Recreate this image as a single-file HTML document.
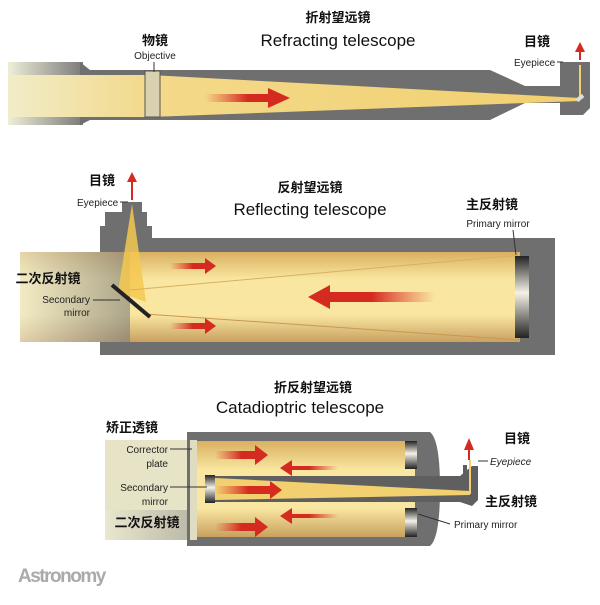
<!DOCTYPE html>
<html><head><meta charset="utf-8"><style>
body{margin:0;background:#fff;}
svg text{font-family:"Liberation Sans","Noto Sans CJK SC",sans-serif;}
.cn{font-weight:bold;font-size:13px;fill:#111;}
.sm{font-size:10px;fill:#222;}
.big{font-size:17px;fill:#111;}
</style></head><body>
<svg width="600" height="600" viewBox="0 0 600 600" xmlns="http://www.w3.org/2000/svg">
<defs>
<linearGradient id="fadeL" x1="0" x2="1"><stop offset="0" stop-color="#eeeed8"/><stop offset="1" stop-color="#7a7a7a"/></linearGradient>
<linearGradient id="beamL" x1="0" x2="1"><stop offset="0" stop-color="#f1ecc8"/><stop offset="0.25" stop-color="#f3d98a"/><stop offset="1" stop-color="#f2d070"/></linearGradient>
<linearGradient id="beamV" x1="0" y1="0" x2="0" y2="1"><stop offset="0" stop-color="#d9b060"/><stop offset="0.3" stop-color="#f9e6a0"/><stop offset="0.7" stop-color="#f9e6a0"/><stop offset="1" stop-color="#c9a060"/></linearGradient>
<linearGradient id="arrR" x1="0" x2="1"><stop offset="0" stop-color="#e04030" stop-opacity="0"/><stop offset="0.5" stop-color="#d42a20"/><stop offset="1" stop-color="#d42a20"/></linearGradient>
<linearGradient id="arrLg" x1="1" x2="0"><stop offset="0" stop-color="#e04030" stop-opacity="0"/><stop offset="0.5" stop-color="#d42a20"/><stop offset="1" stop-color="#d42a20"/></linearGradient>
<linearGradient id="mir" x1="0" y1="0" x2="0" y2="1"><stop offset="0" stop-color="#222"/><stop offset="0.45" stop-color="#f4f2e8"/><stop offset="1" stop-color="#222"/></linearGradient>
</defs>

<!-- Refracting -->
<text x="338" y="22" class="cn" text-anchor="middle">折射望远镜</text>
<text x="338" y="46" class="big" text-anchor="middle">Refracting telescope</text>
<rect x="8" y="62" width="75" height="63" fill="url(#fadeL)"/>
<polygon points="80,62 90,70 490,70 525,86 560,86 560,62 590,62 590,108 583,115 560,115 560,103 525,103 490,120 90,120 80,125" fill="#6f6f6f"/>
<polygon points="8,75 150,75 580,98 580,101 150,117 8,117" fill="url(#beamL)"/>
<rect x="145" y="71" width="15" height="46" fill="#d8d2b0" stroke="#555" stroke-width="1"/>
<line x1="154" y1="62" x2="154" y2="72" stroke="#333"/>
<line x1="580" y1="65" x2="580" y2="100" stroke="#f2d070" stroke-width="2"/>
<rect x="576" y="96" width="8" height="4" fill="#ddd" transform="rotate(-40 580 98)"/>
<polygon points="205,94 268,94 268,88 290,98 268,108 268,102 205,102" fill="url(#arrR)"/>
<line x1="580" y1="60" x2="580" y2="50" stroke="#d42a20" stroke-width="2"/>
<polygon points="575,52 580,42 585,52" fill="#d42a20"/>
<text x="155" y="45" class="cn" text-anchor="middle">物镜</text>
<text x="155" y="59" class="sm" text-anchor="middle">Objective</text>
<text x="537" y="46" class="cn" text-anchor="middle">目镜</text>
<text x="514" y="66" class="sm">Eyepiece</text>
<line x1="557" y1="62" x2="563" y2="62" stroke="#333"/>

<!-- Reflecting -->
<text x="310" y="192" class="cn" text-anchor="middle">反射望远镜</text>
<text x="310" y="215" class="big" text-anchor="middle">Reflecting telescope</text>
<polygon points="100,238 100,226 105,226 105,212 122,212 122,202 142,202 142,212 147,212 147,226 152,226 152,238 555,238 555,355 100,355" fill="#6f6f6f"/>
<rect x="20" y="252" width="500" height="90" fill="url(#beamV)"/>
<rect x="20" y="252" width="110" height="90" fill="url(#fadeL)" opacity="0.6"/>
<polygon points="132,204 118,292 146,302" fill="#f4c850" opacity="0.85"/>
<line x1="130" y1="290" x2="520" y2="255" stroke="#d8b060" stroke-width="1"/>
<line x1="145" y1="314" x2="520" y2="340" stroke="#c89850" stroke-width="1"/>
<rect x="515" y="256" width="14" height="82" fill="url(#mir)"/>
<line x1="112" y1="285" x2="150" y2="317" stroke="#222" stroke-width="4"/>
<line x1="132" y1="200" x2="132" y2="180" stroke="#d42a20" stroke-width="2"/>
<polygon points="127,182 132,172 137,182" fill="#d42a20"/>
<polygon points="170,263 205,263 205,258 216,266 205,274 205,269 170,269" fill="url(#arrR)"/>
<polygon points="170,323 205,323 205,318 216,326 205,334 205,329 170,329" fill="url(#arrR)"/>
<polygon points="435,292 330,292 330,285 308,297 330,309 330,302 435,302" fill="url(#arrLg)"/>
<text x="102" y="185" class="cn" text-anchor="middle">目镜</text>
<text x="77" y="206" class="sm">Eyepiece</text>
<line x1="120" y1="202" x2="128" y2="202" stroke="#333"/>
<text x="48" y="283" class="cn" text-anchor="middle">二次反射镜</text>
<text x="90" y="303" class="sm" text-anchor="end">Secondary</text>
<text x="90" y="316" class="sm" text-anchor="end">mirror</text>
<line x1="93" y1="300" x2="120" y2="300" stroke="#333"/>
<text x="492" y="209" class="cn" text-anchor="middle">主反射镜</text>
<text x="498" y="227" class="sm" text-anchor="middle">Primary mirror</text>
<line x1="513" y1="230" x2="516" y2="255" stroke="#333"/>

<!-- Catadioptric -->
<text x="313" y="392" class="cn" text-anchor="middle">折反射望远镜</text>
<text x="300" y="413" class="big" text-anchor="middle">Catadioptric telescope</text>
<rect x="105" y="440" width="85" height="100" fill="#e6e3c6"/>
<rect x="105" y="510" width="85" height="30" fill="url(#fadeL)" opacity="0.4"/>
<path d="M187,432 L430,432 Q440,440 440,488 Q440,538 430,546 L187,546 Z" fill="#6f6f6f"/>
<rect x="195" y="441" width="220" height="96" fill="url(#beamV)"/>
<rect x="190" y="440" width="7" height="100" fill="#e0dcc0"/>
<rect x="405" y="441" width="12" height="28" fill="url(#mir)"/>
<rect x="405" y="508" width="12" height="29" fill="url(#mir)"/>
<polygon points="205,476 460,476 472,466 478,466 478,500 472,506 460,502 205,502" fill="#5f5f5f"/>
<polygon points="215,478 470,491 470,495 215,500" fill="#f2d070"/>
<rect x="205" y="475" width="10" height="28" fill="url(#mir)"/>
<line x1="470" y1="494" x2="470" y2="460" stroke="#f2d070" stroke-width="2"/>
<rect x="463" y="465" width="4" height="12" fill="#5f5f5f"/>
<line x1="469" y1="460" x2="469" y2="448" stroke="#d42a20" stroke-width="2"/>
<polygon points="464,450 469,438 474,450" fill="#d42a20"/>
<polygon points="215,451 255,451 255,445 268,455 255,465 255,459 215,459" fill="url(#arrR)"/>
<polygon points="215,486 270,486 270,481 282,490 270,499 270,494 215,494" fill="url(#arrR)"/>
<polygon points="215,523 255,523 255,517 268,527 255,537 255,531 215,531" fill="url(#arrR)"/>
<polygon points="338,466 292,466 292,460 280,468 292,476 292,470 338,470" fill="url(#arrLg)"/>
<polygon points="338,514 292,514 292,508 280,516 292,524 292,518 338,518" fill="url(#arrLg)"/>
<text x="132" y="432" class="cn" text-anchor="middle">矫正透镜</text>
<text x="168" y="453" class="sm" text-anchor="end">Corrector</text>
<text x="168" y="467" class="sm" text-anchor="end">plate</text>
<line x1="170" y1="449" x2="192" y2="449" stroke="#333"/>
<text x="168" y="491" class="sm" text-anchor="end">Secondary</text>
<text x="168" y="505" class="sm" text-anchor="end">mirror</text>
<line x1="170" y1="487" x2="207" y2="487" stroke="#333"/>
<text x="147" y="527" class="cn" text-anchor="middle">二次反射镜</text>
<text x="517" y="443" class="cn" text-anchor="middle">目镜</text>
<text x="490" y="465" class="sm" font-style="italic">Eyepiece</text>
<line x1="478" y1="461" x2="488" y2="461" stroke="#333"/>
<text x="511" y="506" class="cn" text-anchor="middle">主反射镜</text>
<text x="454" y="528" class="sm">Primary mirror</text>
<line x1="418" y1="514" x2="450" y2="524" stroke="#333"/>

<text x="18" y="582" font-size="19" font-weight="bold" fill="#aaa" letter-spacing="-1.5" font-family="Liberation Sans Narrow, Liberation Sans, sans-serif">Astronomy</text>
</svg>
</body></html>
